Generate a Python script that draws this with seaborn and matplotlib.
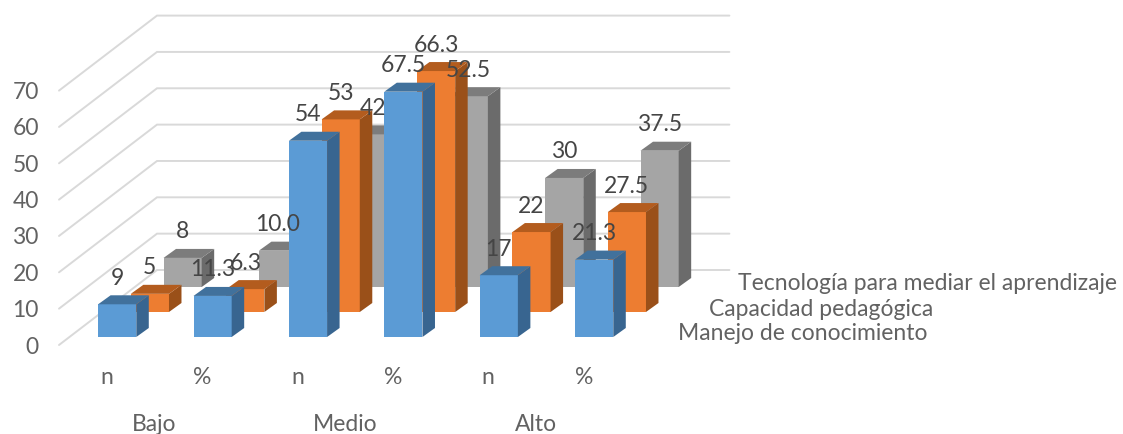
import numpy as np
import pandas as pd
import matplotlib
matplotlib.use("Agg")
import matplotlib.pyplot as plt
from matplotlib.patches import Polygon
import seaborn as sns

# values
categories = ["Bajo n", "Bajo %", "Medio n", "Medio %", "Alto n", "Alto %"]
tick_labels = ["n", "%", "n", "%", "n", "%"]
groups = ["Bajo", "Medio", "Alto"]
y_ticks = [0, 10, 20, 30, 40, 50, 60, 70]
manejo = [9, 11.3, 54, 67.5, 17, 21.3]
capacidad = [5, 6.3, 53, 66.3, 22, 27.5]
tecnologia = [8, 10.0, 42, 52.5, 30, 37.5]
value_labels_manejo = ["9", "11.3", "54", "67.5", "17", "21.3"]
value_labels_capacidad = ["5", "6.3", "53", "66.3", "22", "27.5"]
value_labels_tecnologia = ["8", "10.0", "42", "52.5", "30", "37.5"]

W, H = 1123, 434
TEXT = "#626262"
LABEL_TEXT = "#454545"
FONT = 16.5

sns.set_theme(style="white")
plt.rcParams["font.family"] = ["Lato", "DejaVu Sans"]

fig = plt.figure(figsize=(W / 100, H / 100), dpi=100)
# front plane of the fake 3D box, in pixels
left, right, bottom, top = 59, 631.4, 345, 90.6
ax = fig.add_axes([left / W, 1 - bottom / H, (right - left) / W, (bottom - top) / H])

px_x = (right - left) / 6  # pixels per category
px_y = (bottom - top) / 70  # pixels per unit


def depth(dx, dy):
    return dx / px_x, dy / px_y


# series drawn from back to front
series = [
    ("Tecnología para mediar el aprendizaje", tecnologia, value_labels_tecnologia,
     "#A5A5A5", "#6B6B6B", "#7C7C7C", 2, (738, 283)),
    ("Capacidad pedagógica", capacidad, value_labels_capacidad,
     "#ED7D31", "#9A5019", "#B35C1E", 1, (709, 309)),
    ("Manejo de conocimiento", manejo, value_labels_manejo,
     "#5B9BD5", "#386590", "#41719C", 0, (678, 333)),
]

# back wall and left wall grid
wall_x, wall_y = depth(98, 75)
for v in y_ticks:
    ax.plot([-0.5, -0.5 + wall_x, 5.5 + wall_x], [v, v + wall_y, v + wall_y],
            color="#D9D9D9", lw=1.4, clip_on=False, zorder=1, solid_joinstyle="miter")

for name, values, labels, front, side, cap, k, pos in series:
    df = pd.DataFrame({"cat": categories, "value": values})
    n_before = len(ax.containers)
    sns.barplot(data=df, x="cat", y="value", order=categories, color=front,
                saturation=1, width=0.4, ax=ax, zorder=3 + (2 - k), clip_on=False)
    bars = ax.containers[n_before]
    sx, sy = depth(10.5 + 32.7 * k, 8 + 25 * k)
    bx, by = depth(12.5, 9)  # depth of one bar
    z = 3 + (2 - k)
    for bar, lab in zip(bars, labels):
        bar.set_x(bar.get_x() + sx)
        bar.set_y(sy)
        bar.set_edgecolor("none")
        x0 = bar.get_x()
        x1 = x0 + bar.get_width()
        y0 = sy
        y1 = sy + bar.get_height()
        ax.add_patch(Polygon([(x1, y0), (x1 + bx, y0 + by), (x1 + bx, y1 + by), (x1, y1)],
                             facecolor=side, edgecolor="none", clip_on=False, zorder=z))
        ax.add_patch(Polygon([(x0, y1), (x0 + bx, y1 + by), (x1 + bx, y1 + by), (x1, y1)],
                             facecolor=cap, edgecolor="none", clip_on=False, zorder=z))
        ax.annotate(lab, xy=((x0 + x1) / 2, y1), xytext=(0, 18.7), textcoords="offset points",
                    ha="center", va="center", fontsize=FONT, color=LABEL_TEXT,
                    annotation_clip=False, zorder=10)
    fig.text(pos[0] / W, 1 - pos[1] / H, name, ha="left", va="center", fontsize=FONT, color=TEXT)

ax.set_xlim(-0.5, 5.5)
ax.set_ylim(0, 70)
ax.set_yticks(y_ticks)
ax.set_yticklabels([str(v) for v in y_ticks])
ax.set_xticks(range(len(categories)))
ax.set_xticklabels(tick_labels)
ax.set_xlabel("")
ax.set_ylabel("")
ax.tick_params(axis="y", length=0, pad=14.5, labelsize=FONT, labelcolor=TEXT)
ax.tick_params(axis="x", length=0, pad=15.5, labelsize=FONT, labelcolor=TEXT)
ax.patch.set_alpha(0)
sns.despine(ax=ax, left=True, bottom=True)

for i, g in enumerate(groups):
    ax.annotate(g, xy=(2 * i + 0.5, 0), xytext=(0, -57.5), textcoords="offset points",
                ha="center", va="center", fontsize=FONT, color=TEXT, annotation_clip=False)

fig.savefig("out.png", dpi=100, facecolor="white")
